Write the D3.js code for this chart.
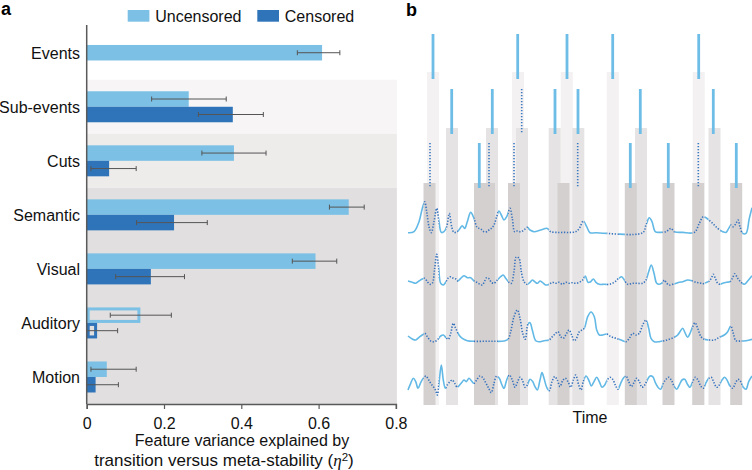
<!DOCTYPE html>
<html><head><meta charset="utf-8">
<script src="https://cdn.jsdelivr.net/npm/d3@7"></script>
<style>
html,body{margin:0;padding:0;background:#fff;}
svg{display:block;font-family:"Liberation Sans",Arial,Helvetica,sans-serif;}
</style></head>
<body>
<svg id="chart" width="752" height="470"></svg>
<script>
// ---------------- Panel a data ----------------
const categories = ["Events","Sub-events","Cuts","Semantic","Visual","Auditory","Motion"];
const seriesNames = ["Uncensored","Censored"];
const uncensored   = [0.609, 0.264, 0.381, 0.678, 0.592, 0.135, 0.052];
const uncensoredLo = [0.545, 0.168, 0.298, 0.628, 0.532, 0.061, 0.011];
const uncensoredHi = [0.655, 0.361, 0.464, 0.718, 0.647, 0.219, 0.128];
const censored     = [null, 0.378, 0.058, 0.226, 0.166, 0.023, 0.023];
const censoredLo   = [null, 0.289, 0.011, 0.129, 0.075, 0.000, 0.000];
const censoredHi   = [null, 0.457, 0.128, 0.312, 0.253, 0.080, 0.082];
const xTicks = [0, 0.2, 0.4, 0.6, 0.8];
const xTitle1 = "Feature variance explained by";
const xTitle2 = "transition versus meta-stability (";

// ---------------- Panel b data ----------------
// boundary markers per hierarchy level (time units); censored = dotted
const level1Marks = [25, 109.7, 159, 204.7, 290.7];
const level1Cens  = [false, false, false, false, false];
const level2Marks = [43.7, 84.3, 113.7, 147, 170, 232.3, 305.3];
const level2Cens  = [false, false, true, false, false, false, false];
const level3Marks = [22, 71.3, 81, 106, 169.7, 222.3, 260.3, 290.3, 328.3];
const level3Cens  = [true, false, true, true, true, false, false, true, false];
// shaded windows per level (centre, time units)
const level1Cols = [25, 110, 158.8, 204.8, 290.7];
const level2Cols = [44, 84, 114, 146.7, 170.3, 233, 306.5];
const level3Cols = [21.5, 72, 81, 106, 155.5, 222.8, 260.5, 290.2, 328.2];
const timeLabel = "Time";

// feature time courses: flat [t, value] pairs
const signal1 = [0,0, 6,1, 11,11, 14.3,24.3, 16.7,31, 18.7,21, 21,6, 23.3,0, 26,11, 28.7,24.3, 31,11, 33.3,0.3, 36,1, 38.7,6, 41.3,19.3, 43.7,6, 46,0.3, 49.3,1, 52,4.3, 54.3,7, 56.7,4.3, 59.3,11, 62.7,20.3, 66,14.3, 68.7,6, 71,4.3, 73.3,3.3, 76,1, 78.7,1, 81,2.7, 83.3,4.3, 86,7.7, 88.7,16, 91,21.7, 93.3,17.7, 96,12.7, 98.7,16, 102,24.3, 104.3,14.3, 106.7,1, 109.3,1.7, 112.7,1, 116,2.7, 119.3,5.3, 122,2.7, 126,1, 132.7,2.7, 139.3,4.3, 142.7,1, 149.3,0.3, 156,0.3, 162.7,0.3, 167.7,1, 171.3,4.3, 175.3,11.7, 178.7,6, 182,0, 188,0, 234.7,0, 238,7.7, 241.3,15, 244,11, 247.3,1, 251.3,0.3, 258,1, 263,4.3, 266.3,1, 274.7,0.3, 286.3,0.3, 291.3,9.3, 295.3,16, 299.7,13.7, 304.7,9.3, 309.7,4.3, 314.7,1, 318,0.3, 320.7,4.3, 323,7.7, 325.3,6, 328,9.3, 330,12.7, 332,6, 334.7,-0.7, 338,-0.7, 341.3,14.3, 344,25];
const signal2 = [0,2, 4.3,0.7, 7.7,-0.3, 11,2, 14.3,4, 16.7,4.7, 19.3,1.3, 22,-1.3, 24.3,-0.3, 26.7,14.7, 28.7,28.7, 30.7,14.7, 32.7,-0.3, 35.3,-2, 37.7,0.7, 40,4.7, 42.7,6.3, 45.3,4.7, 48,4, 50,2, 52.7,4.7, 56,7.3, 59.3,5.3, 62.7,5.3, 66,2, 68.7,0.7, 72,-1.3, 74.3,-2, 76.7,2, 78.7,5.3, 81.3,4, 83.3,0.7, 86,-0.3, 89.3,3, 92.7,6.3, 95.3,8, 97.7,4.7, 101,0.7, 103.3,-0.3, 106,11.3, 108.3,26, 111,24.7, 113.3,11.3, 116,1.3, 118.7,-1.3, 122,0.7, 124.3,3, 126.7,1.3, 129.3,-0.3, 132,2, 134.3,0.7, 137.7,-2, 141,-1.3, 144.3,0.7, 147.7,-0.3, 151,0.7, 154.3,-1.3, 157.7,0.7, 161,-0.3, 164.3,0.3, 167.7,-0.3, 171.3,0.7, 174.7,3, 177.3,7, 180,0.7, 182.7,1.3, 185.3,4, 188,0.7, 191.3,-1.3, 196.3,-1.3, 201.3,-1.3, 206.3,0.7, 210.7,4.7, 213.7,6.3, 216.3,3, 219.7,-1.3, 224.7,-0.3, 229.7,-0.3, 234.7,-0.3, 238,3, 240.7,11.3, 243.3,18, 246,9.7, 248.7,-0.3, 251.3,-1.3, 254.7,0.7, 256.3,3, 258.7,-0.3, 261.3,-2, 264.7,-1.3, 268,-0.3, 271.3,0.7, 274.7,1.3, 279.7,3, 284.7,2, 288,0.7, 292,0, 294.7,-0.7, 298.7,0.7, 301.3,2, 304,6.3, 305.3,8.7, 307.3,4.7, 309.7,-0.3, 312,-1.3, 314.7,-0.3, 318.7,0.7, 322,1.3, 324.7,5.3, 326.7,9.3, 329.7,4.7, 333,0.7, 336.3,-1.3, 339.7,2, 344,7.3];
const signal3 = [0,4, 4.3,1, 7.7,0, 11,2.7, 14.3,5, 16.7,6.7, 19.3,3.3, 22.7,-1, 26,-1.7, 29.3,0, 32.7,4, 35.3,5, 37.7,2.7, 40.3,0.7, 42.7,6.7, 45.3,16.7, 47.7,11.7, 51,5, 54.3,1.7, 59.3,-0.7, 66,-1.3, 76,-1.3, 86,-1.3, 96,-1, 100,0.7, 102.7,8.3, 106,23.3, 109.3,30, 112,21.7, 114.7,6.7, 117.3,0.7, 120,16, 122,17.3, 124.3,10, 127.7,-0.7, 131,-1.7, 136,-0.7, 141,0, 144.3,3.3, 147.7,6.7, 150,8.3, 152.7,3.3, 155.3,1.7, 158.7,6.7, 161,10, 163.7,5, 166,-0.7, 168,0.7, 171.3,8.3, 174,10, 176.3,11.7, 179.7,23.3, 183,28, 186.3,23.3, 188.7,10, 191.3,5, 194.7,5, 198.7,6, 203,3.3, 208,1.7, 213,0, 218,-1.7, 221.3,1.7, 224.7,6.7, 228,5, 231.3,6.7, 234.7,15, 238,20, 240.7,11.7, 243,1.7, 246.3,-1.7, 251.3,-1.7, 256.3,-0.7, 261.3,0.7, 266.3,2.7, 269.7,5, 272,8.3, 274.7,11.7, 277.3,6.7, 279.7,2.7, 282,6.7, 284.7,13.3, 287,17.3, 289.7,11.7, 293,3.3, 296.3,0.7, 301.3,0, 306.3,0, 311.3,2.7, 316.3,5, 319.7,8.3, 322.7,14, 325.3,6.7, 328,-0.7, 333,-1, 338,-0.7, 344,0.7];
const signal4 = [0,-6.7, 2.7,0, 5.3,5, 7.7,1.7, 10,-5, 12.7,0.7, 15.3,5, 18,7.3, 20.3,4, 22.7,0, 25.3,-3.3, 27.7,-7.3, 29.3,-11.7, 31,0, 33.3,18.3, 35.3,3.3, 37.3,-5, 39.3,-1.7, 42,1.7, 44.3,3.3, 46.7,0, 49.3,-4, 51.7,-1.7, 53.7,0.7, 56,3.3, 58.3,1.7, 61,5, 63.3,2.7, 66,0, 68.7,3.3, 72,7.3, 75.3,5, 78,0, 80.7,-5, 83.3,-9.3, 86,0, 88.7,7.3, 91.3,5, 94,-1.7, 96,-5, 98.7,3.3, 101.3,8.3, 104.3,3.3, 107,-4, 109.3,0.7, 112,6, 114.3,3.3, 117,-4, 119.3,-1.7, 122,4, 124.7,1.7, 127,-3.3, 129.3,-6.7, 132,3.3, 134,10.7, 136,5, 138.7,-4, 141.3,-7.3, 144,1.7, 146.7,6.7, 149.3,3.3, 152,-3.3, 154.7,2.7, 157.3,5, 160,1.7, 162.7,-4, 165.3,3.3, 167.7,8.3, 170.7,-1.7, 173,-6.7, 175.3,1.7, 178,7.3, 180.7,3.3, 183.3,-2.7, 186,1.7, 188.7,6, 191.3,1.7, 194,-4, 196.7,-1.7, 199.3,3.3, 202,6, 204.7,4, 207.3,-1.7, 210,-6, 212.7,0, 215.3,5, 218,7.3, 220.7,1.7, 223.3,-3.3, 226,0.7, 228.7,5, 231.3,1.7, 234,-4, 236.7,-1.7, 239.3,3.3, 242,7.3, 244.7,6.7, 247.3,0.7, 250,-4, 252.7,-6, 255.3,0, 258,4, 260.7,6, 263.3,3.3, 266,-2.7, 268.7,-6, 271.3,-1.7, 274,3.3, 276.7,4, 279.3,-0.7, 282,-4, 284.7,1.7, 287.3,6, 290,3.3, 292.7,-2.7, 295.3,-5, 298,0.7, 300.7,5, 303.3,6, 306,0.7, 308.7,-4, 311.3,-1.7, 314,3.3, 316.7,6, 319.3,2.7, 322,-2.7, 324.7,-5, 327.3,0, 330,4, 332.7,1.7, 335.3,-4, 338,-6, 340.7,1.7, 344,7.3];

// ---------------- Drawing ----------------
const svg = d3.select("#chart");
const cLight = "#7cc1e5", cDark = "#2f74b9", axisCol = "#5a5a5a";

// ===== Panel a =====
const x = d3.scaleLinear().domain([0, 0.8]).range([86.7, 395.9]);
const y = d3.scaleBand().domain(categories).range([25.7, 404]).padding(0);
const sub = d3.scaleBand().domain(seriesNames).range([0, 31]);
const bandH = sub.bandwidth();

const gA = svg.append("g");
const bgGroups = [
  {cats:["Sub-events"], fill:"#f7f5f5"},
  {cats:["Cuts"], fill:"#eeebeb"},
  {cats:["Semantic","Visual","Auditory","Motion"], fill:"#e1dfdf"}
];
bgGroups.forEach(g => {
  const top = y(g.cats[0]);
  const bot = y(g.cats[g.cats.length-1]) + y.bandwidth();
  gA.append("rect").attr("x", x(0)).attr("y", top)
    .attr("width", x(0.8) - x(0) + 1).attr("height", bot - top).attr("fill", g.fill);
});

const outlinedCats = ["Auditory"];
categories.forEach((c, i) => {
  const mid = y(c) + y.bandwidth()/2;
  const entries = [];
  if (censored[i] === null) {
    entries.push({v: uncensored[i], lo: uncensoredLo[i], hi: uncensoredHi[i], col: cLight, y0: mid - bandH/2});
  } else {
    entries.push({v: uncensored[i], lo: uncensoredLo[i], hi: uncensoredHi[i], col: cLight, y0: mid - 31/2 + sub("Uncensored")});
    entries.push({v: censored[i], lo: censoredLo[i], hi: censoredHi[i], col: cDark, y0: mid - 31/2 + sub("Censored")});
  }
  entries.forEach(e => {
    if (outlinedCats.includes(c)) {
      gA.append("rect").attr("x", x(0) + 1.5).attr("y", e.y0 + 1.5)
        .attr("width", x(e.v) - x(0) - 1.5).attr("height", bandH - 3)
        .attr("fill", "none").attr("stroke", e.col).attr("stroke-width", 3);
    } else {
      gA.append("rect").attr("x", x(0)).attr("y", e.y0)
        .attr("width", x(e.v) - x(0)).attr("height", bandH).attr("fill", e.col);
    }
    const ym = e.y0 + bandH/2;
    gA.append("line").attr("x1", x(e.lo)).attr("x2", x(e.hi)).attr("y1", ym).attr("y2", ym)
      .attr("stroke", "#555").attr("stroke-width", 1);
    [e.lo, e.hi].forEach(v => {
      if (v > 0) gA.append("line").attr("x1", x(v)).attr("x2", x(v)).attr("y1", ym-2.5).attr("y2", ym+2.5)
        .attr("stroke", "#555").attr("stroke-width", 1);
    });
  });
});

gA.append("line").attr("x1", x(0)).attr("x2", x(0)).attr("y1", 25).attr("y2", 404)
  .attr("stroke", axisCol).attr("stroke-width", 1.5);
gA.selectAll("text.cat").data(categories).join("text").attr("class","cat")
  .attr("x", 80).attr("y", d => y(d) + y.bandwidth()/2 + 5.8)
  .attr("text-anchor", "end").attr("font-size", 16).attr("fill", "#111").text(d => d);

const xAxis = d3.axisBottom(x).tickValues(xTicks).tickFormat(d => d === 0 ? "0" : d3.format(".1f")(d)).tickSize(5).tickPadding(5);
const gx = gA.append("g").attr("transform", "translate(0,404)").call(xAxis);
gx.select(".domain").attr("stroke", axisCol).attr("stroke-width", 1.5);
gx.selectAll(".tick line").attr("stroke", axisCol).attr("stroke-width", 1.2);
gx.selectAll(".tick text").attr("font-size", 16).attr("fill", "#111")
  .attr("font-family", "Liberation Sans, Arial, sans-serif").attr("dy", "0.95em");

gA.append("text").attr("x", 242).attr("y", 446).attr("text-anchor", "middle")
  .attr("font-size", 16).attr("fill", "#111").text(xTitle1);
const t2 = gA.append("text").attr("x", 224).attr("y", 466).attr("text-anchor", "middle")
  .attr("font-size", 17).attr("fill", "#111");
t2.append("tspan").text(xTitle2);
t2.append("tspan").attr("font-style", "italic").attr("font-family", "Liberation Serif, serif").attr("font-size", 17).text("η");
t2.append("tspan").attr("dy", -5).attr("font-size", 11.5).text("2");
t2.append("tspan").attr("dy", 5).text(")");

const legX = [127.7, 257.3];
seriesNames.forEach((s, i) => {
  gA.append("rect").attr("x", legX[i]).attr("y", 10).attr("width", 21.7).attr("height", 11.7)
    .attr("fill", i === 0 ? cLight : cDark);
  gA.append("text").attr("x", legX[i] + 27.5).attr("y", 21.8).attr("font-size", 16).attr("fill", "#111").text(s);
});

svg.append("text").attr("x", 1).attr("y", 15).attr("font-size", 18).attr("font-weight", "bold").text("a");
svg.append("text").attr("x", 406).attr("y", 16).attr("font-size", 18).attr("font-weight", "bold").text("b");

// ===== Panel b =====
const t = d3.scaleLinear().domain([0, 344]).range([408, 752]);
const colW = 12;
const colBottom = 405;
const levels = [
  {marks: level1Marks, cens: level1Cens, cols: level1Cols, markTop: 34, colTop: 72, fill: "#f3f1f1"},
  {marks: level2Marks, cens: level2Cens, cols: level2Cols, markTop: 89, colTop: 128, fill: "#e5e3e3"},
  {marks: level3Marks, cens: level3Cens, cols: level3Cols, markTop: 143, colTop: 183, fill: "#d4d0d0"}
];
const markLen = 45;
const gB = svg.append("g");
levels.forEach(L => {
  gB.append("g").selectAll("rect").data(L.cols).join("rect")
    .attr("x", d => t(d - colW/2)).attr("width", t(colW) - t(0))
    .attr("y", L.colTop).attr("height", colBottom - L.colTop).attr("fill", L.fill);
});
levels.forEach(L => {
  L.marks.forEach((m, i) => {
    const ln = gB.append("line").attr("x1", t(m)).attr("x2", t(m))
      .attr("y1", L.markTop).attr("y2", L.markTop + markLen);
    if (L.cens[i]) ln.attr("stroke", "#3b79c3").attr("stroke-width", 1.6).attr("stroke-dasharray", "1.3,1.7");
    else ln.attr("stroke", "#6dbde7").attr("stroke-width", 2.8);
  });
});

const allCols = [].concat(level1Cols, level2Cols, level3Cols).map(c => [c - colW/2, c + colW/2]).sort((a,b)=>a[0]-b[0]);
const merged = [];
allCols.forEach(iv => {
  if (merged.length && iv[0] <= merged[merged.length-1][1]) merged[merged.length-1][1] = Math.max(merged[merged.length-1][1], iv[1]);
  else merged.push(iv.slice());
});
const gaps = [];
let prev = -10;
merged.forEach(iv => { gaps.push([prev, iv[0]]); prev = iv[1]; });
gaps.push([prev, 360]);
const defs = svg.append("defs");
defs.append("clipPath").attr("id", "inClip").selectAll("rect").data(merged).join("rect")
  .attr("x", d => t(d[0])).attr("width", d => t(d[1]) - t(d[0])).attr("y", 150).attr("height", 260);
defs.append("clipPath").attr("id", "outClip").selectAll("rect").data(gaps).join("rect")
  .attr("x", d => t(d[0])).attr("width", d => t(d[1]) - t(d[0])).attr("y", 150).attr("height", 260);

const signals = [signal1, signal2, signal3, signal4];
const baselines = [232.7, 283, 340, 383.3];
signals.forEach((s, k) => {
  const pts = d3.range(0, s.length, 2).map(j => [s[j], s[j+1]]);
  const yk = d3.scaleLinear().domain([0, 30]).range([baselines[k], baselines[k] - 30]);
  const line = d3.line().x(d => t(d[0])).y(d => yk(d[1])).curve(d3.curveCatmullRom.alpha(0.5));
  gB.append("path").attr("d", line(pts)).attr("fill", "none").attr("stroke", "#62b9e6")
    .attr("stroke-width", 1.6).attr("clip-path", "url(#outClip)");
  gB.append("path").attr("d", line(pts)).attr("fill", "none").attr("stroke", "#3672be")
    .attr("stroke-width", 1.6).attr("stroke-dasharray", "1.3,1.6").attr("clip-path", "url(#inClip)");
});

gB.append("text").attr("x", 590).attr("y", 423).attr("text-anchor", "middle")
  .attr("font-size", 16).attr("fill", "#111").text(timeLabel);
</script>
</body></html>
